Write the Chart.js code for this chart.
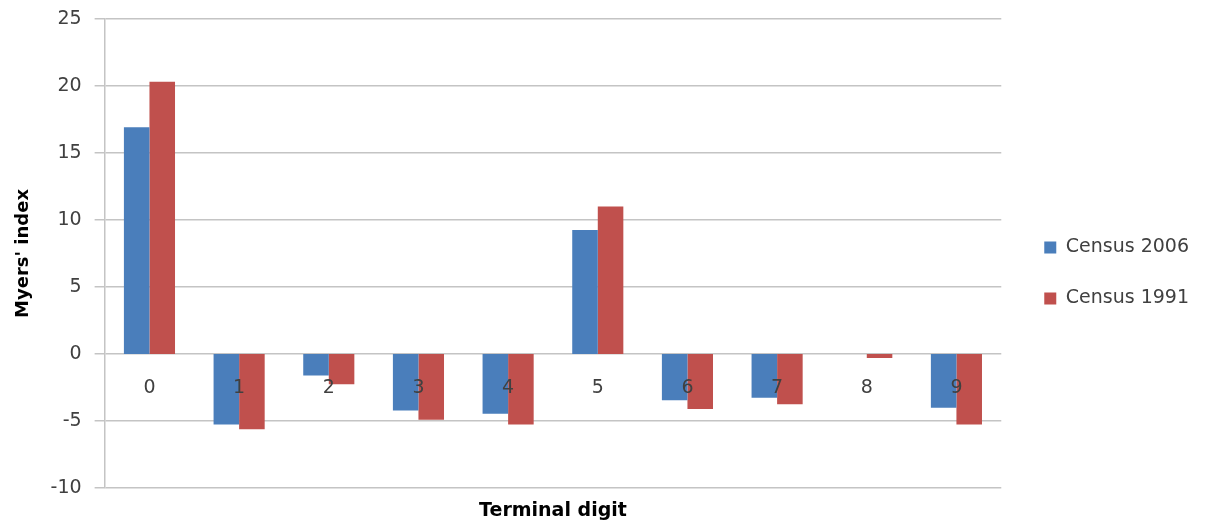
<!DOCTYPE html>
<html>
<head>
<meta charset="utf-8">
<script src="https://cdn.jsdelivr.net/npm/chart.js@4.4.1/dist/chart.umd.min.js"></script>
<style>
  html, body { margin: 0; padding: 0; background: #fff; }
  #wrap { width: 1205px; height: 524px; position: relative; }
</style>
</head>
<body>
<div id="wrap"><canvas id="chart"></canvas></div>
<script>
// terminal digits and Myers' index per census
const digits = ['0', '1', '2', '3', '4', '5', '6', '7', '8', '9'];
const census2006 = [16.9, -5.25, -1.6, -4.2, -4.45, 9.25, -3.45, -3.25, 0, -4.0];
const census1991 = [20.3, -5.6, -2.25, -4.9, -5.25, 11.0, -4.1, -3.75, -0.3, -5.25];
const yTicks = [-10, -5, 0, 5, 10, 15, 20, 25];

const FONT = 'DejaVu Sans';
const gridGrey = '#c4c4c4';

const ctx = document.getElementById('chart').getContext('2d');
new Chart(ctx, {
    type: 'bar',
    data: {
        labels: digits,
        datasets: [
            { label: 'Census 2006', data: census2006, backgroundColor: '#4a7ebb', xAxisID: 'x' },
            { label: 'Census 1991', data: census1991, backgroundColor: '#c0504d', xAxisID: 'x' }
        ]
    },
    options: {
        responsive: true,
        maintainAspectRatio: false,
        animation: false,
        barPercentage: 1,
        categoryPercentage: 0.57,
        layout: { padding: { top: 0, right: 6, left: 13, bottom: 2 } },
        plugins: {
            legend: {
                position: 'right',
                title: { display: true, text: ' ', font: { size: 10 }, padding: 6 },
                labels: {
                    font: { family: FONT, size: 19 },
                    color: '#404040',
                    boxWidth: 12,
                    boxHeight: 12,
                    padding: 32
                }
            },
            tooltip: { enabled: false }
        },
        scales: {
            x: {
                position: { y: 0 },
                grid: { display: false, drawTicks: false },
                border: { display: false },
                // labels sit on top of the bars, like the original
                ticks: { z: 1, font: { family: FONT, size: 19 }, color: '#404040', padding: 23 }
            },
            x2: {
                type: 'category',
                labels: digits,
                position: 'bottom',
                grid: { display: false },
                border: { display: false },
                ticks: { display: false },
                title: {
                    display: true,
                    text: 'Terminal digit',
                    font: { family: FONT, size: 19, weight: 'bold' },
                    color: '#000',
                    padding: { top: 3, bottom: 0 }
                }
            },
            // empty spacer between plot and legend
            gap: {
                type: 'linear',
                position: 'right',
                grid: { display: false },
                border: { display: false },
                ticks: { display: false },
                afterFit: (axis) => { axis.width = 11; }
            },
            y: {
                min: yTicks[0],
                max: yTicks[yTicks.length - 1],
                afterBuildTicks: (axis) => { axis.ticks = yTicks.map(v => ({ value: v })); },
                grid: { color: gridGrey, lineWidth: 1.5, tickLength: 10 },
                border: { color: gridGrey, width: 1.5 },
                ticks: { font: { family: FONT, size: 19, lineHeight: 0.6 }, color: '#404040', padding: 13 },
                title: {
                    display: true,
                    text: "Myers' index",
                    font: { family: FONT, size: 18, weight: 'bold' },
                    color: '#000',
                    padding: { top: 0, bottom: 3 }
                }
            }
        }
    }
});
</script>
</body>
</html>
